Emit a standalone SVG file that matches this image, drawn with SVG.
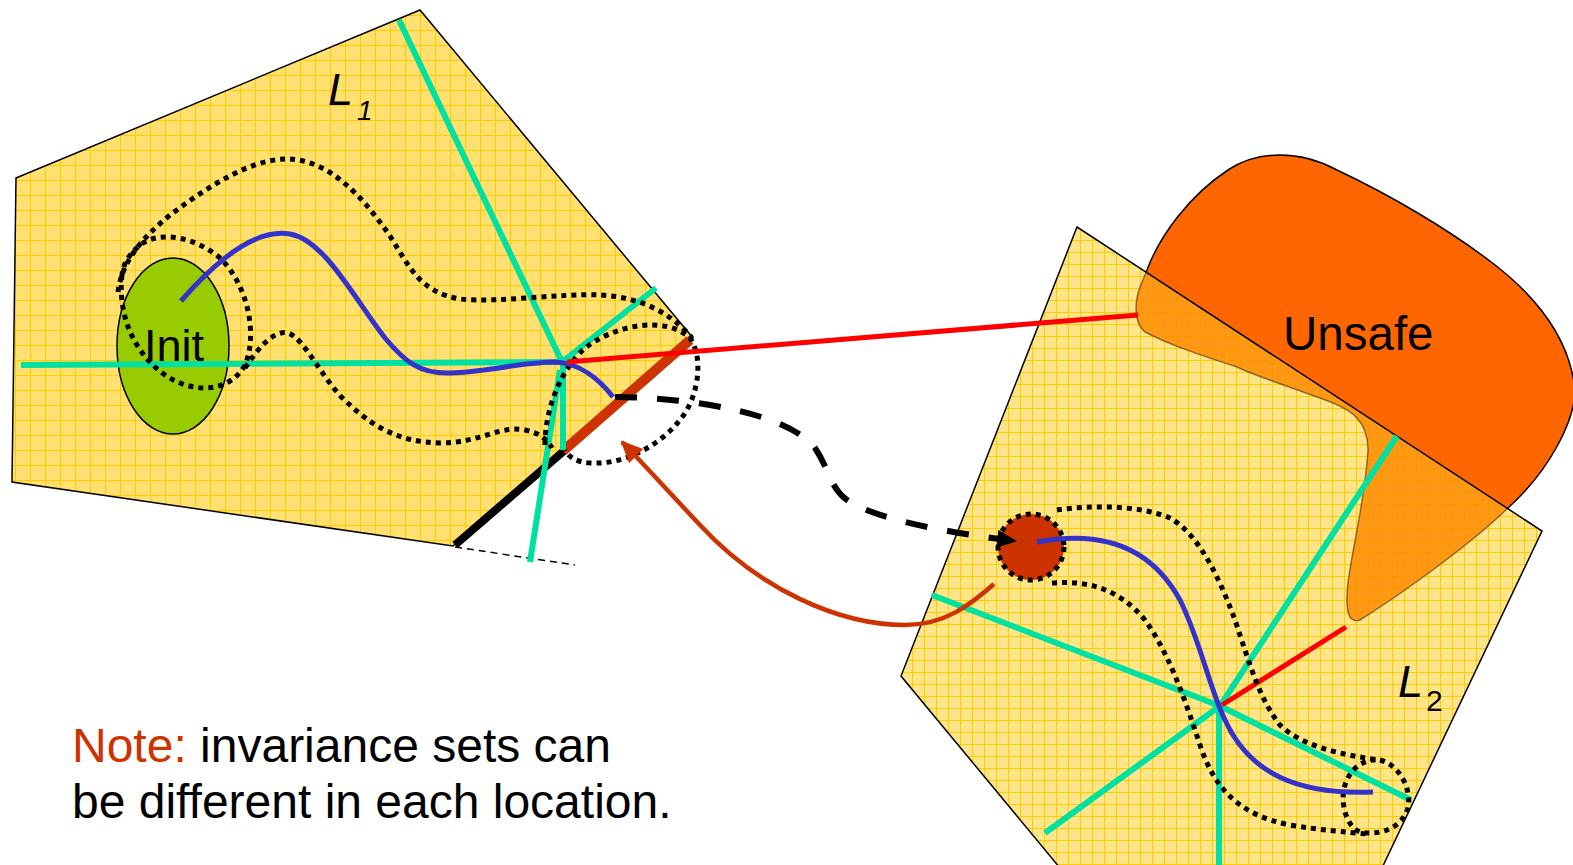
<svg xmlns="http://www.w3.org/2000/svg" width="1573" height="865" viewBox="0 0 1573 865">
<style>
.dot{fill:none;stroke:#000;stroke-width:5;stroke-dasharray:5 5}
.teal{stroke:#00E0A0;stroke-width:6;fill:none}
.blue{stroke:#3333CC;stroke-width:5;fill:none}
.red{stroke:#FF0000;stroke-width:5;fill:none}
.lbl{font-family:"Liberation Sans",Arial,sans-serif;fill:#000}
</style>
<defs>
<pattern id="grid1" patternUnits="userSpaceOnUse" width="15" height="15">
<rect width="15" height="15" fill="#FFE070"/>
<path d="M0 0.5H15M0.5 0V15" stroke="#FFCC00" stroke-width="1"/>
</pattern>
<pattern id="grid2" patternUnits="userSpaceOnUse" width="12" height="12">
<rect width="12" height="12" fill="#FFE58A"/>
<path d="M0 0.5H12M0.5 0V12" stroke="#FFCC00" stroke-width="1"/>
</pattern>
<clipPath id="inL2"><polygon points="1077,227 1542,531 1382,868 1060,868 901,676"/></clipPath>
<mask id="outL2" maskUnits="userSpaceOnUse" x="0" y="0" width="1573" height="865">
<rect width="1573" height="865" fill="#fff"/>
<polygon points="1077,227 1542,531 1382,868 1060,868 901,676" fill="#000"/>
</mask>
<marker id="brownHead" markerUnits="userSpaceOnUse" markerWidth="24" markerHeight="22" refX="20" refY="10" orient="auto">
<path d="M0,0 L22,10 L0,20 Z" fill="#CC3300"/>
</marker>
<marker id="blackHead" markerUnits="userSpaceOnUse" markerWidth="22" markerHeight="20" refX="18" refY="9" orient="auto">
<path d="M0,0 L20,9 L0,18 Z" fill="#000"/>
</marker>
</defs>

<g id="L1">
<polygon points="16,178 420,10 693,338 453,546 12,482" fill="url(#grid1)" stroke="#000" stroke-width="1.5"/>
<text class="lbl" x="328" y="105" font-size="45" font-style="italic">L</text>
<text class="lbl" x="357" y="120" font-size="28" font-style="italic">1</text>
</g>

<g id="guard">
<line x1="455" y1="545" x2="565" y2="450" stroke="#000" stroke-width="8"/>
<line x1="563" y1="451" x2="690" y2="340" stroke="#CC3300" stroke-width="10"/>
<line x1="455" y1="547" x2="575" y2="565" stroke="#000" stroke-width="1.5" stroke-dasharray="7 5"/>
</g>

<g id="Init">
<ellipse cx="173" cy="346" rx="56" ry="88" fill="#99CC00" stroke="#000" stroke-width="1.5"/>
<text class="lbl" x="174" y="361" font-size="45" text-anchor="middle">Init</text>
</g>

<g id="L1-lines">
<line class="teal" x1="399" y1="20" x2="562" y2="362"/>
<line class="teal" x1="21" y1="365" x2="562" y2="362"/>
<line class="teal" x1="562" y1="362" x2="656" y2="288"/>
<line class="teal" x1="563" y1="362" x2="563" y2="450"/>
<line class="teal" x1="560" y1="370" x2="530" y2="562"/>
<path class="dot" d="M118,292 C122,262 140,240 170,215 C210,185 250,160 285,159 C330,158 365,200 390,236 C410,268 420,292 460,299 C500,303 560,293 600,295 C640,297 670,312 692,338"/>
<path class="dot" d="M122,275 C118,310 130,350 165,375 C195,395 230,392 245,365 C258,335 248,285 220,258 C195,237 160,230 140,245 C128,255 123,265 122,275 Z"/>
<path class="dot" d="M245,368 C260,345 275,330 288,333 C305,338 325,385 350,405 C375,428 400,442 440,443 C480,443 500,425 525,430 C540,433 548,440 552,448"/>
<path class="dot" d="M545,445 C545,410 560,370 585,348 C615,325 665,315 690,338 C705,360 697,400 680,420 C660,445 625,465 590,463 C575,462 568,456 565,450"/>
<path class="blue" d="M181,301 C215,262 255,228 290,234 C325,240 355,300 385,338 C405,362 420,374 450,373 C490,372 520,362 555,362 C580,363 600,380 613,397"/>
</g>

<g id="Unsafe">
<path d="M1147,270 C1160,235 1190,195 1228,170 C1258,150 1300,150 1337,170 C1390,195 1450,230 1495,265 C1540,300 1570,340 1575,390 C1575,420 1550,470 1508,508 C1470,545 1400,595 1360,620 C1345,625 1346,600 1348,583 C1352,550 1365,500 1368,450 C1368,420 1350,410 1333,403 C1300,390 1260,378 1237,367 C1200,355 1170,345 1145,332 C1133,322 1135,300 1140,287 Z" fill="#FF6600" stroke="#000" stroke-width="1.5" mask="url(#outL2)"/>
<text class="lbl" x="1283" y="350" font-size="47.5">Unsafe</text>
</g>

<g id="L2">
<polygon points="1077,227 1542,531 1382,868 1060,868 901,676" fill="url(#grid2)"/>
<path d="M1147,270 C1160,235 1190,195 1228,170 C1258,150 1300,150 1337,170 C1390,195 1450,230 1495,265 C1540,300 1570,340 1575,390 C1575,420 1550,470 1508,508 C1470,545 1400,595 1360,620 C1345,625 1346,600 1348,583 C1352,550 1365,500 1368,450 C1368,420 1350,410 1333,403 C1300,390 1260,378 1237,367 C1200,355 1170,345 1145,332 C1133,322 1135,300 1140,287 Z" fill="#FF8C00" fill-opacity="0.85" stroke="#000" stroke-opacity="0.45" stroke-width="1.5" clip-path="url(#inL2)"/>
<polygon points="1077,227 1542,531 1382,868 1060,868 901,676" fill="none" stroke="#000" stroke-width="1.5"/>
<text class="lbl" x="1398" y="697" font-size="45" font-style="italic">L</text>
<text class="lbl" x="1426" y="711" font-size="30">2</text>
</g>

<g id="L2-lines">
<line class="teal" x1="1220" y1="706" x2="1397" y2="436"/>
<line class="teal" x1="1220" y1="706" x2="932" y2="595"/>
<line class="teal" x1="1220" y1="706" x2="1411" y2="800"/>
<line class="teal" x1="1220" y1="706" x2="1045" y2="833"/>
<line class="teal" x1="1219" y1="706" x2="1219" y2="866"/>
<line class="red" x1="1222" y1="705" x2="1346" y2="627"/>
<path class="dot" d="M1057,510 C1090,505 1140,505 1170,518 C1200,535 1220,580 1235,620 C1250,665 1260,700 1280,725 C1300,745 1340,755 1380,760"/>
<path class="dot" d="M1380,760 C1400,765 1412,790 1408,808 C1402,828 1380,836 1360,832 C1345,826 1340,800 1345,785 C1350,768 1365,758 1380,760"/>
<path class="dot" d="M1052,583 C1090,580 1120,590 1145,620 C1170,655 1185,700 1200,745 C1215,790 1240,815 1290,825 C1320,830 1345,832 1367,834"/>
</g>

<g id="target">
<circle cx="1031" cy="547" r="33" fill="#CC3300"/>
<circle cx="1031" cy="547" r="33" class="dot"/>
<path class="blue" d="M1037,542 C1100,530 1150,545 1180,600 C1200,640 1210,690 1225,720 C1250,775 1300,795 1373,792"/>
</g>

<g id="connectors">
<line class="red" x1="567" y1="362" x2="1138" y2="315"/>
<path d="M615,397 C700,398 790,415 815,448 C830,470 830,490 850,502 C880,520 950,533 1015,541" fill="none" stroke="#000" stroke-width="6" stroke-dasharray="22 20" marker-end="url(#blackHead)"/>
<path d="M994,584 C970,605 945,625 905,625 C840,625 760,590 700,525 C665,488 640,460 622,442" fill="none" stroke="#CC3300" stroke-width="4.5" marker-end="url(#brownHead)"/>
</g>

<g id="note">
<text class="lbl" x="72" y="762" font-size="48"><tspan fill="#CC3300">Note:</tspan> invariance sets can</text>
<text class="lbl" x="72" y="818" font-size="48">be different in each location.</text>
</g>
</svg>
